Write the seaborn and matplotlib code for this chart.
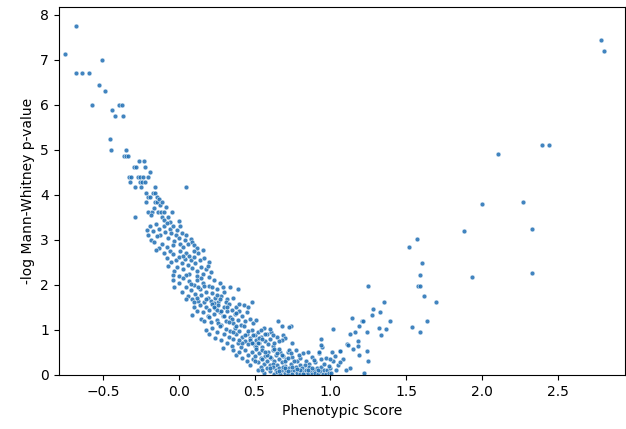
import pandas as pd
import numpy as np
import matplotlib
matplotlib.use('Agg')
import matplotlib.pyplot as plt
import seaborn as sns
import warnings
warnings.filterwarnings('ignore')

"""1) Data read off the chart: phenotypic score (x) and -log p (y)"""
# steep left tail, y above ~4.8
tail_x = [-0.75, -0.675, -0.675, -0.64, -0.59, -0.506, -0.526, -0.486, -0.57, -0.437,
          -0.394, -0.376, -0.422, -0.365, -0.45, -0.446, -0.345, -0.363, -0.35, -0.335]
tail_y = [7.14, 7.76, 6.72, 6.72, 6.72, 7.0, 6.44, 6.30, 6.01, 5.89,
          6.01, 6.01, 5.76, 5.76, 5.24, 4.99, 4.99, 4.87, 4.87, 4.87]

# upper cloud, y 3.4 - 4.8
upper_x = [-0.264, -0.226, -0.295, -0.281, -0.22, -0.187, -0.328, -0.312, -0.27, -0.252,
           -0.235, -0.2, -0.323, -0.257, -0.24, -0.222, -0.29, -0.246, -0.156, -0.213,
           -0.17, -0.154, 0.046, -0.2, -0.19, -0.14, -0.217, -0.155, -0.14, -0.085,
           -0.204, -0.174, -0.134, -0.116, -0.094, -0.042, -0.29, -0.112, -0.07, 0.0,
           -0.16, -0.125, -0.18, -0.1, -0.06, -0.13, -0.11]
upper_y = [4.75, 4.75, 4.63, 4.63, 4.63, 4.50, 4.39, 4.39, 4.39, 4.39,
           4.39, 4.39, 4.28, 4.28, 4.28, 4.28, 4.17, 4.17, 4.17, 4.05,
           4.05, 4.05, 4.17, 3.95, 3.95, 3.95, 3.84, 3.84, 3.84, 3.73,
           3.63, 3.63, 3.63, 3.63, 3.63, 3.63, 3.52, 3.52, 3.52, 3.43,
           3.72, 3.78, 3.55, 3.45, 3.40, 3.90, 3.85]

# cloud, y 2.2 - 3.4
mid_hi_x = [-0.21, -0.19, -0.17, -0.15, -0.13, -0.12, -0.1, -0.09, -0.08, -0.07,
            -0.06, -0.05, -0.04, -0.03, -0.02, -0.01, 0.0, 0.01, 0.02, 0.03,
            0.04, 0.06, 0.08, 0.09, 0.1, -0.18, -0.16, -0.14, -0.11, -0.13,
            -0.08, -0.04, 0.01, 0.05, 0.12, -0.2,
            -0.15, -0.1, -0.08, -0.06, -0.05, -0.04, -0.03, -0.02, -0.01, 0.0,
            0.01, 0.02, 0.03, 0.04, 0.05, 0.06, 0.07, 0.08, 0.09, 0.1,
            0.11, 0.12, 0.13, 0.14, 0.15, 0.16, 0.17, 0.18, 0.2, 0.21,
            -0.04, 0.0, 0.05, 0.1, 0.07, 0.03, -0.07, 0.12, 0.16, 0.19]
mid_hi_y = [3.22, 3.30, 3.20, 3.35, 3.25, 3.10, 3.30, 3.18, 3.38, 3.05,
            3.25, 3.15, 3.32, 2.98, 3.10, 3.22, 3.05, 2.92, 3.15, 2.85,
            3.00, 2.90, 3.02, 2.95, 2.88, 3.00, 2.95, 3.08, 2.90, 2.82,
            2.85, 2.88, 3.30, 3.10, 2.82, 3.12,
            2.78, 2.70, 2.60, 2.75, 2.50, 2.68, 2.30, 2.55, 2.40, 2.62,
            2.75, 2.48, 2.35, 2.58, 2.70, 2.45, 2.25, 2.55, 2.38, 2.62,
            2.48, 2.30, 2.70, 2.55, 2.40, 2.78, 2.60, 2.35, 2.50, 2.28,
            2.22, 2.20, 2.22, 2.75, 2.65, 2.65, 2.42, 2.20, 2.25, 2.42]

# cloud, y 1.1 - 2.2
mid_lo_x = [-0.04, -0.03, 0.0, 0.02, 0.03, 0.05, 0.06, 0.07, 0.08, 0.09,
            0.1, 0.11, 0.12, 0.13, 0.14, 0.15, 0.16, 0.17, 0.18, 0.19,
            0.2, 0.21, 0.22, 0.23, 0.24, 0.25, 0.26, 0.27, 0.28, 0.3,
            0.32, 0.34, 0.36, 0.39, 0.48, 0.05, 0.1, 0.15, 0.2, 0.25,
            0.13, 0.18, 0.22, 0.08, 0.12, 0.27, 0.29, 0.17, 0.23, 0.31,
            0.09, 0.1, 0.12, 0.14, 0.15, 0.16, 0.18, 0.19, 0.2, 0.21,
            0.22, 0.23, 0.24, 0.25, 0.26, 0.27, 0.28, 0.29, 0.3, 0.31,
            0.32, 0.33, 0.34, 0.35, 0.36, 0.37, 0.38, 0.39, 0.4, 0.41,
            0.42, 0.43, 0.44, 0.45, 0.47, 0.49, 0.51, 0.2, 0.25, 0.3,
            0.35, 0.28, 0.33, 0.38, 0.17, 0.23, 0.4, 0.46, 0.26, 0.32]
mid_lo_y = [2.10, 1.95, 2.05, 1.85, 2.15, 1.95, 1.75, 2.08, 1.88, 1.68,
            2.00, 1.80, 2.12, 1.65, 1.92, 1.78, 2.05, 1.62, 1.85, 1.72,
            1.98, 1.65, 1.82, 2.10, 1.70, 1.90, 1.62, 2.05, 1.75, 1.85,
            1.68, 1.95, 1.72, 1.90, 1.61, 1.68, 1.62, 2.15, 2.18, 1.78,
            1.95, 1.68, 1.95, 2.02, 1.72, 1.68, 1.95, 1.98, 1.60, 1.62,
            1.33, 1.50, 1.42, 1.55, 1.25, 1.40, 1.52, 1.30, 1.45, 1.18,
            1.58, 1.35, 1.48, 1.22, 1.55, 1.40, 1.12, 1.30, 1.50, 1.20,
            1.42, 1.58, 1.28, 1.45, 1.15, 1.35, 1.52, 1.22, 1.42, 1.12,
            1.30, 1.55, 1.20, 1.40, 1.25, 1.15, 1.22, 1.28, 1.45, 1.30,
            1.25, 1.42, 1.18, 1.38, 1.20, 1.52, 1.58, 1.50, 1.15, 1.52]

# cloud, y 0.6 - 1.1
low_hi_x = [0.18, 0.2, 0.22, 0.24, 0.25, 0.27, 0.28, 0.3, 0.31, 0.32,
            0.33, 0.34, 0.35, 0.36, 0.37, 0.38, 0.39, 0.4, 0.41, 0.42,
            0.43, 0.44, 0.45, 0.46, 0.47, 0.48, 0.49, 0.5, 0.5, 0.51,
            0.52, 0.53, 0.54, 0.55, 0.56, 0.57, 0.58, 0.59, 0.6, 0.61,
            0.62, 0.63, 0.65, 0.653, 0.68, 0.739, 0.69, 0.7, 0.68, 0.73,
            0.75, 0.29, 0.47, 0.49, 0.52, 0.46, 0.53, 0.51, 0.55, 0.48,
            0.57, 0.44, 0.42, 0.6, 0.62, 0.66, 0.36, 0.4, 0.38, 0.54]
low_hi_y = [1.00, 0.90, 1.05, 0.82, 0.95, 1.08, 0.78, 0.92, 1.02, 0.70,
            0.85, 0.98, 0.65, 0.80, 1.05, 0.90, 0.72, 0.98, 0.62, 0.85,
            1.08, 0.75, 0.92, 0.68, 0.82, 1.00, 0.72, 0.88, 0.65, 0.78,
            0.95, 0.70, 0.85, 0.62, 1.05, 0.75, 0.90, 0.68, 0.80, 0.95,
            0.65, 0.72, 0.85, 1.20, 1.08, 1.08, 0.89, 0.82, 0.78, 1.07,
            0.70, 0.59, 0.78, 0.88, 0.72, 0.98, 0.82, 0.62, 0.80, 0.70,
            0.92, 0.88, 0.70, 1.02, 0.88, 0.75, 0.95, 0.78, 1.08, 1.00]

# cloud, y 0 - 0.6
low_x = [0.36, 0.38, 0.4, 0.42, 0.44, 0.45, 0.46, 0.48, 0.49, 0.5,
         0.51, 0.52, 0.53, 0.54, 0.55, 0.56, 0.57, 0.58, 0.59, 0.6,
         0.61, 0.62, 0.63, 0.64, 0.65, 0.66, 0.67, 0.68, 0.69, 0.7,
         0.71, 0.72, 0.73, 0.74, 0.75, 0.776, 0.78, 0.8, 0.82, 0.84,
         0.86, 0.88, 0.9, 0.923, 0.94, 0.943, 0.941, 0.941, 0.6, 0.65,
         0.7, 0.58, 0.55, 0.63, 0.68, 0.72, 0.76, 0.8, 0.85, 0.5,
         0.47, 0.57, 0.62, 0.66, 0.74, 0.79, 0.83, 0.89,
         0.52, 0.54, 0.56, 0.58, 0.6, 0.62, 0.63, 0.64, 0.65, 0.66,
         0.67, 0.68, 0.69, 0.7, 0.71, 0.72, 0.73, 0.74, 0.75, 0.76,
         0.77, 0.78, 0.79, 0.8, 0.81, 0.82, 0.83, 0.84, 0.85, 0.86,
         0.87, 0.88, 0.89, 0.9, 0.91, 0.92, 0.93, 0.94, 0.95, 0.96,
         0.97, 0.98, 0.99, 1.0, 0.7, 0.75, 0.8, 0.85, 0.66, 0.72,
         0.78, 0.82, 0.88, 0.92, 0.6, 0.55]
low_y = [0.55, 0.45, 0.50, 0.38, 0.55, 0.30, 0.45, 0.52, 0.35, 0.42,
         0.58, 0.28, 0.48, 0.38, 0.55, 0.25, 0.42, 0.32, 0.50, 0.22,
         0.38, 0.55, 0.30, 0.45, 0.22, 0.35, 0.52, 0.28, 0.42, 0.20,
         0.35, 0.50, 0.56, 0.25, 0.40, 0.56, 0.30, 0.22, 0.48, 0.32,
         0.25, 0.40, 0.28, 0.48, 0.35, 0.63, 0.79, 0.66, 0.40, 0.48,
         0.32, 0.45, 0.35, 0.58, 0.45, 0.38, 0.30, 0.38, 0.50, 0.30,
         0.22, 0.52, 0.25, 0.58, 0.48, 0.45, 0.22, 0.33,
         0.12, 0.18, 0.05, 0.15, 0.08, 0.18, 0.02, 0.12, 0.06, 0.16,
         0.03, 0.10, 0.18, 0.05, 0.12, 0.02, 0.15, 0.08, 0.01, 0.12,
         0.18, 0.05, 0.10, 0.02, 0.15, 0.07, 0.01, 0.12, 0.04, 0.17,
         0.08, 0.02, 0.12, 0.05, 0.15, 0.01, 0.08, 0.18, 0.03, 0.10,
         0.02, 0.12, 0.05, 0.15, 0.15, 0.18, 0.12, 0.10, 0.08, 0.09,
         0.14, 0.03, 0.16, 0.10, 0.16, 0.10]

# right arm, x 0.9 - 1.4
arm_x = [1.018, 1.14, 1.19, 1.207, 1.16, 1.13, 1.238, 1.18, 1.185, 1.11,
         1.06, 1.01, 0.925, 1.24, 1.19, 1.25, 1.13, 1.22, 1.007, 1.25,
         1.28, 1.33, 1.273, 1.35, 1.214, 1.39, 1.32, 1.365, 1.335, 1.02,
         0.97, 1.05, 1.08, 1.1, 0.96, 1.03, 1.0, 1.04, 1.06, 0.99,
         1.15, 1.115, 1.062]
arm_y = [1.01, 1.27, 1.08, 1.20, 0.96, 0.90, 0.96, 0.76, 0.64, 0.68,
         0.53, 0.50, 0.50, 0.53, 0.44, 0.31, 0.15, 0.04, 0.04, 1.98,
         1.47, 1.40, 1.33, 1.61, 1.20, 1.20, 1.04, 1.01, 0.89, 0.30,
         0.38, 0.22, 0.35, 0.12, 0.25, 0.42, 0.35, 0.10, 0.28, 0.20,
         0.58, 0.67, 0.53]

# far right outliers
right_x = [1.52, 1.57, 1.603, 1.588, 1.575, 1.59, 1.62, 1.695, 1.634, 1.535,
           1.59, 1.88, 1.93, 2.0, 2.27, 2.33, 2.33, 2.104, 2.397, 2.439,
           2.784, 2.803]
right_y = [2.84, 3.02, 2.48, 2.22, 1.98, 1.98, 1.75, 1.61, 1.20, 1.07,
           0.96, 3.21, 2.18, 3.81, 3.84, 3.25, 2.27, 4.91, 5.12, 5.12,
           7.45, 7.21]

scores = tail_x + upper_x + mid_hi_x + mid_lo_x + low_hi_x + low_x + arm_x + right_x
pvals = tail_y + upper_y + mid_hi_y + mid_lo_y + low_hi_y + low_y + arm_y + right_y
screen_data = pd.DataFrame({'score': scores, 'neg_log_p': pvals})

"""2) Scatter"""
plt.close('all')
fig = plt.figure(figsize=(6.26, 4.29), dpi=100)
ax = fig.add_axes([0.094, 0.126, 0.904, 0.858])
sns.scatterplot(data=screen_data, x='score', y='neg_log_p', ax=ax, s=12,
                color='#1f6fb4', alpha=0.85, edgecolor='white', linewidth=0.4)
ax.set_xlim(-0.79, 2.94)
ax.set_ylim(0, 8.18)
ax.set_xticks([-0.5, 0.0, 0.5, 1.0, 1.5, 2.0, 2.5])
ax.set_yticks(range(0, 9))
ax.set_xlabel('Phenotypic Score')
ax.set_ylabel('-log Mann-Whitney p-value')

plt.savefig('out.png', dpi=100)
